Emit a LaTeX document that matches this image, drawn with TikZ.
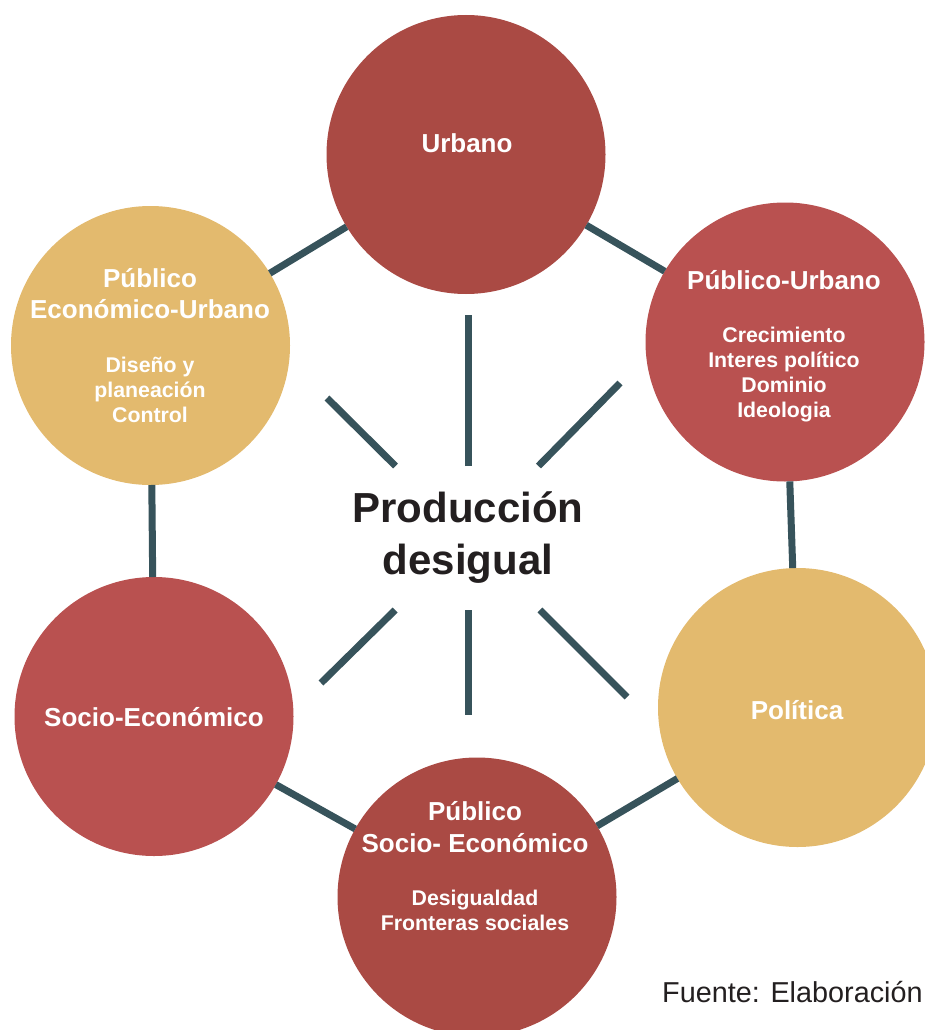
\documentclass[tikz,border=0pt]{standalone}
\usepackage{fontspec}
\setmainfont{Liberation Sans}

\definecolor{rojoA}{HTML}{AA4A44}
\definecolor{rojoB}{HTML}{B95150}
\definecolor{ocre}{HTML}{E3BA6E}
\definecolor{pizarra}{HTML}{37535B}
\definecolor{tinta}{HTML}{231F20}

\begin{document}
\begin{tikzpicture}[x=1pt,y=-1pt,
    bola/.style={circle, minimum size=279pt, inner sep=0pt, outer sep=0pt},
    enlace/.style={line width=7pt, color=pizarra},
    titulo/.style={anchor=base, text=white, font=\fontsize{26}{31}\selectfont\bfseries},
    detalle/.style={anchor=base, text=white, font=\fontsize{21.3}{25}\selectfont\bfseries}]

    \useasboundingbox (0,0) rectangle (925,1030);

    % Circles
    \node[bola, fill=rojoA] (urb) at (466,154.5) {};
    \node[bola, fill=rojoB] (pu) at (785,342) {};
    \node[bola, fill=ocre] (pol) at (797.5,707.5) {};
    \node[bola, fill=rojoA] (pse) at (477,897) {};
    \node[bola, fill=rojoB] (se) at (154,716.5) {};
    \node[bola, fill=ocre] (peu) at (150.5,345.5) {};

    % Links between circles
    \foreach \a/\b in {urb/pu, pu/pol, pol/pse, pse/se, se/peu, peu/urb}
        \draw[enlace] (\a) -- (\b);

    % Center
    \node[align=center, text=tinta, font=\fontsize{42}{52}\selectfont\bfseries,
        minimum width=250pt, minimum height=144pt, inner sep=0pt, outer sep=0pt]
        (prod) at (468,538) {Producción\\desigual};

    % Rays
    \foreach \n/\x/\y in {a/468/315, b/327/398, c/620/383, d/321/683, e/468/715, f/627/697} {
        \coordinate (r\n) at (\x,\y);
        \draw[enlace] (prod) -- (r\n);
    }

    % Labels
    \node[titulo] (urb-t) at (467,152) {Urbano};

    \node[titulo] (pu-t) at (784,289) {Público-Urbano};
    \foreach \t [count=\i] in {Crecimiento, Interes político, Dominio, Ideologia}
        \node[detalle] (pu-\i) at (784,316.7+25.3*\i) {\t};

    \node[titulo] (peu-t1) at (150,287) {Público};
    \node[titulo] (peu-t2) at (150,318) {Económico-Urbano};
    \foreach \t [count=\i] in {Diseño y, planeación, Control}
        \node[detalle] (peu-\i) at (150,347+25*\i) {\t};

    \node[titulo] (se-t) at (154,726) {Socio-Económico};
    \node[titulo] (pol-t) at (797,719) {Política};

    \node[titulo] (pse-t1) at (475,820) {Público};
    \node[titulo] (pse-t2) at (475,852) {Socio- Económico};
    \foreach \t [count=\i] in {Desigualdad, Fronteras sociales}
        \node[detalle] (pse-\i) at (475,880+25*\i) {\t};

    % Source
    \node[anchor=base west, inner sep=0pt, text=tinta, font=\fontsize{28.8}{35}\selectfont]
        (fuente) at (662,1002) {Fuente: Elaboración};

\end{tikzpicture}
\end{document}
